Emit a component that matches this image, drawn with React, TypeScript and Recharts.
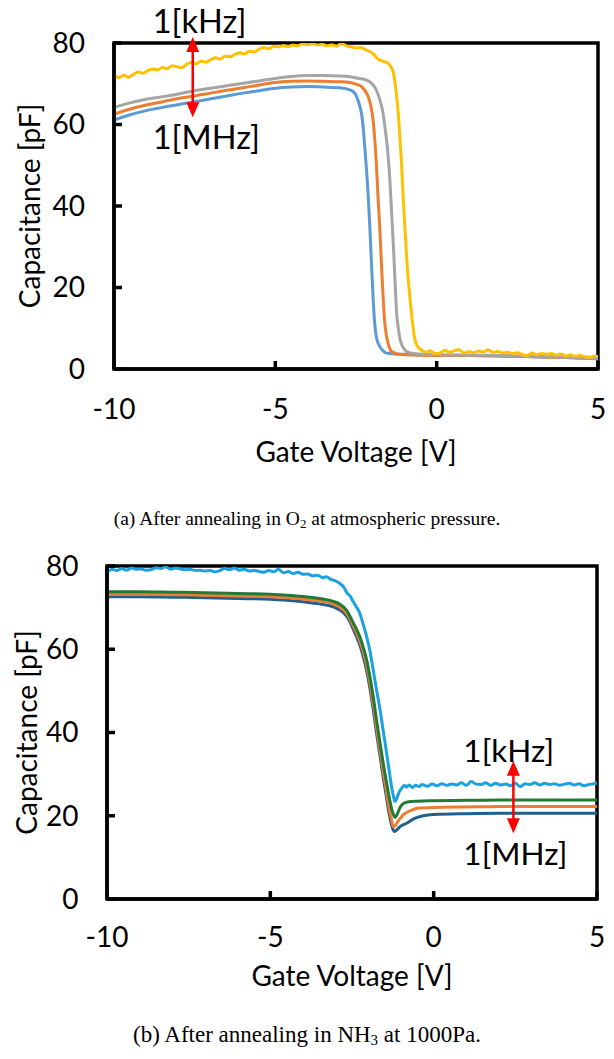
import { LineChart, Line, XAxis, YAxis, ReferenceArea, ReferenceLine } from 'recharts'

type Pt = [number, number]

const voltTicks = [-10, -5, 0, 5]
const capTicks = [0, 20, 40, 60, 80]

// (a) O2 anneal, 1 kHz ... 1 MHz
const o2Yellow: Pt[] = [
  [-10, 72.0], [-9.85, 71.5], [-9.7, 72.1], [-9.55, 71.6], [-9.4, 72.3], [-9.25, 72.9], [-9.1, 72.6],
  [-8.95, 73.2], [-8.8, 73.6], [-8.65, 73.4], [-8.5, 74.0], [-8.35, 73.7], [-8.2, 74.4], [-8.05, 74.2],
  [-7.9, 73.9], [-7.75, 74.8], [-7.6, 75.2], [-7.45, 74.9], [-7.3, 75.6], [-7.15, 75.3], [-7.0, 75.9],
  [-6.85, 76.4], [-6.7, 76.1], [-6.55, 76.8], [-6.4, 76.6], [-6.25, 77.2], [-6.1, 77.6], [-5.95, 77.3],
  [-5.8, 78.0], [-5.65, 77.8], [-5.5, 78.5], [-5.35, 78.9], [-5.2, 78.6], [-5.05, 79.2], [-4.9, 79.0],
  [-4.75, 79.4], [-4.6, 79.1], [-4.45, 79.5], [-4.3, 79.3], [-4.15, 79.8], [-4.0, 79.6], [-3.85, 79.9],
  [-3.7, 79.5], [-3.55, 79.7], [-3.4, 79.3], [-3.25, 79.6], [-3.1, 79.2], [-2.95, 79.9], [-2.8, 79.3],
  [-2.65, 79.1], [-2.5, 78.8], [-2.35, 78.9], [-2.2, 78.3], [-2.07, 77.9], [-1.95, 77.2], [-1.85, 76.3],
  [-1.76, 75.8], [-1.65, 75.5], [-1.5, 75.0], [-1.42, 74.2], [-1.34, 72.6], [-1.27, 69.0], [-1.19, 62.7],
  [-1.14, 57.0], [-1.09, 50.5], [-1.04, 42.5], [-0.98, 34.1], [-0.91, 25.0], [-0.83, 17.7], [-0.75, 11.5],
  [-0.67, 7.1], [-0.57, 5.3], [-0.46, 4.6], [-0.35, 4.1], [-0.2, 4.5], [-0.05, 3.8], [0.1, 3.9],
  [0.25, 4.6], [0.4, 4.1], [0.55, 4.5], [0.7, 4.7], [0.85, 3.9], [1.0, 4.3], [1.15, 4.0], [1.3, 4.4],
  [1.45, 4.2], [1.6, 4.7], [1.75, 4.1], [1.9, 4.3], [2.05, 3.9], [2.2, 4.1], [2.35, 3.8], [2.5, 4.0],
  [2.65, 3.6], [2.8, 3.3], [2.95, 3.9], [3.1, 3.5], [3.25, 3.8], [3.4, 3.6], [3.55, 3.8], [3.7, 3.4],
  [3.85, 3.7], [4.0, 3.2], [4.15, 3.5], [4.3, 3.1], [4.45, 3.3], [4.6, 3.0], [4.75, 2.9], [4.9, 3.2],
  [5.0, 3.0],
]

const o2Gray: Pt[] = [
  [-10, 64.2], [-9.5, 65.3], [-9, 66.2], [-8.5, 66.8], [-8, 67.5], [-7.5, 68.3], [-7, 68.9],
  [-6.5, 69.5], [-6, 70.1], [-5.5, 70.7], [-5, 71.3], [-4.5, 71.8], [-4, 72.0], [-3.5, 72.0],
  [-3, 71.9], [-2.69, 71.7], [-2.4, 71.3], [-2.18, 70.9], [-2.0, 70.0], [-1.87, 68.5], [-1.76, 66.0],
  [-1.66, 62.7], [-1.59, 58.5], [-1.53, 54.6], [-1.45, 46.4], [-1.4, 39.0], [-1.34, 30.0],
  [-1.29, 21.5], [-1.24, 13.7], [-1.18, 9.5], [-1.13, 7.1], [-1.03, 5.2], [-0.93, 4.3], [-0.7, 3.8],
  [0, 3.5], [1, 3.4], [2, 3.3], [3, 3.1], [4, 2.9], [5, 2.6],
]

const o2Orange: Pt[] = [
  [-10, 62.5], [-9.5, 63.8], [-9, 64.8], [-8.5, 65.6], [-8, 66.4], [-7.5, 67.0], [-7, 67.7],
  [-6.5, 68.4], [-6, 69.0], [-5.5, 69.7], [-5, 70.3], [-4.5, 70.6], [-4, 70.7], [-3.5, 70.6],
  [-3, 70.5], [-2.69, 70.3], [-2.5, 69.9], [-2.33, 69.3], [-2.22, 68.3], [-2.12, 66.8], [-2.04, 64.5],
  [-1.97, 61.1], [-1.92, 56.5], [-1.87, 50.5], [-1.82, 42.5], [-1.76, 34.1], [-1.71, 25.5],
  [-1.66, 17.7], [-1.61, 11.5], [-1.55, 7.9], [-1.48, 5.6], [-1.4, 4.3], [-1.2, 3.7], [-1, 3.5],
  [0, 3.3], [1, 3.3], [2, 3.2], [3, 3.0], [4, 2.8], [5, 2.5],
]

const o2Blue: Pt[] = [
  [-10, 61.1], [-9.5, 62.4], [-9, 63.4], [-8.5, 64.2], [-8, 64.9], [-7.5, 65.6], [-7, 66.3],
  [-6.5, 67.0], [-6, 67.7], [-5.5, 68.3], [-5, 68.9], [-4.5, 69.2], [-4, 69.3], [-3.5, 69.2],
  [-3, 69.0], [-2.69, 68.5], [-2.55, 67.8], [-2.48, 66.8], [-2.4, 65.0], [-2.33, 62.7], [-2.28, 59.5],
  [-2.23, 54.6], [-2.17, 48.5], [-2.12, 42.3], [-2.07, 34.5], [-2.02, 25.9], [-1.97, 17.5],
  [-1.92, 11.2], [-1.86, 7.5], [-1.76, 5.5], [-1.65, 4.4], [-1.55, 3.9], [-1.3, 3.7], [-1, 3.6],
  [0, 3.4], [1, 3.3], [2, 3.2], [3, 3.0], [4, 2.8], [5, 2.5],
]

// (b) NH3 anneal
const nh3Light: Pt[] = [
  [-10, 78.4], [-9.85, 79.2], [-9.7, 78.9], [-9.55, 79.4], [-9.4, 79.0], [-9.25, 79.5], [-9.1, 79.2],
  [-8.95, 79.3], [-8.8, 79.0], [-8.65, 79.1], [-8.5, 79.6], [-8.35, 79.4], [-8.2, 79.8], [-8.05, 79.2],
  [-7.9, 79.5], [-7.75, 79.3], [-7.6, 79.1], [-7.45, 79.2], [-7.3, 78.9], [-7.15, 79.0], [-7.0, 78.8],
  [-6.85, 78.9], [-6.7, 78.6], [-6.55, 78.9], [-6.4, 79.4], [-6.25, 79.1], [-6.1, 79.5], [-5.95, 79.0],
  [-5.8, 79.2], [-5.65, 78.8], [-5.5, 78.9], [-5.35, 78.7], [-5.2, 78.5], [-5.05, 78.9], [-4.9, 78.6],
  [-4.75, 79.2], [-4.6, 78.4], [-4.45, 78.7], [-4.3, 78.2], [-4.15, 78.5], [-4.0, 78.0], [-3.85, 78.1],
  [-3.7, 77.6], [-3.55, 77.8], [-3.4, 77.2], [-3.29, 77.4], [-3.15, 76.8], [-3.0, 76.4], [-2.87, 75.8],
  [-2.75, 74.9], [-2.66, 73.6], [-2.56, 72.8], [-2.46, 71.4], [-2.36, 70.1], [-2.26, 68.6],
  [-2.15, 65.8], [-2.05, 63.0], [-1.95, 59.6], [-1.85, 55.0], [-1.75, 50.3], [-1.64, 45.4],
  [-1.54, 40.2], [-1.44, 35.0], [-1.36, 30.8], [-1.29, 27.0], [-1.23, 24.6], [-1.18, 23.4],
  [-1.12, 24.4], [-1.05, 25.8], [-0.98, 26.6], [-0.9, 27.3], [-0.83, 26.9], [-0.75, 27.4],
  [-0.65, 26.8], [-0.55, 27.3], [-0.45, 27.0], [-0.35, 27.5], [-0.2, 27.1], [-0.05, 27.6], [0.1, 27.2],
  [0.25, 27.7], [0.4, 27.3], [0.55, 27.6], [0.7, 27.4], [0.85, 27.9], [1.0, 27.3], [1.15, 28.2],
  [1.3, 27.6], [1.45, 27.5], [1.6, 27.9], [1.75, 27.3], [1.9, 27.8], [2.05, 27.4], [2.2, 27.6],
  [2.35, 27.2], [2.5, 27.8], [2.65, 27.0], [2.8, 27.7], [2.95, 27.5], [3.1, 27.9], [3.25, 27.4],
  [3.4, 27.8], [3.55, 27.5], [3.7, 27.7], [3.85, 27.3], [4.0, 27.6], [4.15, 27.8], [4.3, 27.4],
  [4.45, 27.7], [4.6, 27.2], [4.75, 27.5], [4.9, 27.7], [5.0, 27.9],
]

const nh3Green: Pt[] = [
  [-10, 73.8], [-9, 73.8], [-8, 73.7], [-7, 73.6], [-6, 73.4], [-5, 73.2], [-4.5, 73.0], [-4, 72.7],
  [-3.5, 72.2], [-3.07, 71.5], [-2.87, 70.8], [-2.66, 69.3], [-2.56, 67.9], [-2.46, 66.3],
  [-2.36, 64.8], [-2.26, 63.0], [-2.15, 60.3], [-2.05, 57.4], [-1.95, 53.3], [-1.85, 48.6],
  [-1.75, 43.0], [-1.64, 37.4], [-1.54, 32.4], [-1.44, 27.8], [-1.36, 24.4], [-1.29, 21.8],
  [-1.23, 20.2], [-1.18, 19.6], [-1.12, 20.3], [-1.03, 22.0], [-0.93, 22.9], [-0.8, 23.3],
  [-0.5, 23.5], [0, 23.6], [1, 23.7], [2, 23.8], [3, 23.8], [4, 23.8], [5, 23.8],
]

const nh3Orange: Pt[] = [
  [-10, 73.2], [-9, 73.2], [-8, 73.1], [-7, 73.0], [-6, 72.8], [-5, 72.6], [-4.5, 72.4], [-4, 72.1],
  [-3.5, 71.6], [-3.07, 70.9], [-2.87, 70.1], [-2.66, 68.6], [-2.56, 67.2], [-2.46, 65.6],
  [-2.36, 63.9], [-2.26, 62.0], [-2.15, 59.2], [-2.05, 56.0], [-1.95, 51.8], [-1.85, 46.9],
  [-1.75, 41.3], [-1.64, 35.6], [-1.54, 30.4], [-1.44, 25.6], [-1.36, 21.8], [-1.29, 19.0],
  [-1.24, 17.4], [-1.18, 17.6], [-1.1, 18.6], [-1.0, 19.6], [-0.93, 20.2], [-0.8, 20.9],
  [-0.62, 21.5], [-0.52, 21.8], [0, 22.0], [1, 22.1], [2, 22.2], [5, 22.2],
]

const nh3Navy: Pt[] = [
  [-10, 72.6], [-9, 72.6], [-8, 72.5], [-7, 72.4], [-6, 72.2], [-5, 72.0], [-4.5, 71.8], [-4, 71.4],
  [-3.5, 70.9], [-3.07, 70.2], [-2.87, 69.4], [-2.66, 67.9], [-2.56, 66.5], [-2.46, 64.8],
  [-2.36, 63.0], [-2.26, 61.0], [-2.15, 58.0], [-2.05, 54.8], [-1.95, 50.5], [-1.85, 45.5],
  [-1.75, 39.9], [-1.64, 34.2], [-1.54, 29.0], [-1.44, 24.2], [-1.36, 20.4], [-1.29, 17.8],
  [-1.21, 16.2], [-1.13, 16.6], [-1.03, 17.4], [-0.83, 18.2], [-0.6, 19.3], [-0.32, 20.0],
  [0, 20.3], [1, 20.5], [2, 20.6], [5, 20.6],
]

// arrow between 1 kHz and 1 MHz: [voltage, cap] at both tips
const o2Arrow: Pt[] = [[-7.56, 81.5], [-7.56, 61.8]]
const nh3Arrow: Pt[] = [[2.44, 33.2], [2.44, 15.8]]

const FONT = 'Lato, sans-serif'
const SERIF = "'Liberation Serif', 'Times New Roman', serif"
const toRows = (pts: Pt[]) => pts.map(([v, c]) => ({ v, c }))

type Series = { key: string; color: string; pts: Pt[] }

const FreqArrow = (props: any) => {
  const { x1, y1, y2, textDx, kHzDy, mHzDy, fs } = props
  const x = x1
  const top = Math.min(y1, y2)
  const bot = Math.max(y1, y2)
  const red = '#FF0000'
  return (
    <g>
      <line x1={x} y1={top + 12} x2={x} y2={bot - 12} stroke={red} strokeWidth={2.5} />
      <polygon points={`${x},${top} ${x - 6.5},${top + 15} ${x + 6.5},${top + 15}`} fill={red} />
      <polygon points={`${x},${bot} ${x - 6.5},${bot - 15} ${x + 6.5},${bot - 15}`} fill={red} />
      <text x={x + textDx} y={top + kHzDy} fontSize={fs} fill="#000" fontFamily={FONT}>1[kHz]</text>
      <text x={x + textDx} y={bot + mHzDy} fontSize={fs} fill="#000" fontFamily={FONT}>1[MHz]</text>
    </g>
  )
}

type PanelProps = {
  top: number
  height: number
  yAxisW: number
  right: number
  yTickGap: number
  xTickGap: number
  xTitleDy: number
  yTitleX: number
  series: Series[]
  arrow: Pt[]
  textDx: number
  kHzDy: number
  noteSize: number
}

function Panel(p: PanelProps) {
  const axisLine = { stroke: '#000', strokeWidth: 3.5 }
  const tick = { fill: '#000', fontSize: 28, fontFamily: FONT }
  return (
    <div style={{ position: 'absolute', left: 0, top: p.top }}>
      <LineChart width={614} height={p.height} margin={{ top: 43, right: p.right, bottom: 0, left: 0 }}>
        <XAxis
          type="number" dataKey="v" domain={[-10, 5]} ticks={voltTicks} interval={0}
          height={111} axisLine={axisLine} tickLine={axisLine} tickSize={-8} tickMargin={8 + p.xTickGap}
          tick={tick} allowDataOverflow
          label={(lp: any) => {
            const vb = lp.viewBox
            return (
              <text x={vb.x + vb.width / 2} y={vb.y + p.xTitleDy} textAnchor="middle" fontSize={28} fill="#000" fontFamily={FONT}>
                Gate Voltage [V]
              </text>
            )
          }}
        />
        <YAxis
          type="number" domain={[0, 80]} ticks={capTicks} interval={0} width={p.yAxisW}
          axisLine={axisLine} tickLine={axisLine} tickSize={-8} tickMargin={8 + p.yTickGap}
          tick={tick} allowDataOverflow
          label={(lp: any) => {
            const vb = lp.viewBox
            const x = vb.x + p.yTitleX
            const y = vb.y + vb.height / 2
            return (
              <text x={x} y={y} transform={`rotate(-90, ${x}, ${y})`} textAnchor="middle" fontSize={28} fill="#000" fontFamily={FONT}>
                Capacitance [pF]
              </text>
            )
          }}
        />
        {p.series.map((s) => (
          <Line
            key={s.key} data={toRows(s.pts)} dataKey="c" type="monotone" stroke={s.color}
            strokeWidth={3} dot={false} activeDot={false} isAnimationActive={false}
          />
        ))}
        <ReferenceArea x1={-10} x2={5} y1={0} y2={80} fill="none" stroke="#000" strokeWidth={3.5} ifOverflow="visible" />
        <ReferenceLine
          segment={[{ x: p.arrow[0][0], y: p.arrow[0][1] }, { x: p.arrow[1][0], y: p.arrow[1][1] }]}
          ifOverflow="visible"
          shape={(sp: any) => <FreqArrow {...sp} textDx={p.textDx} kHzDy={p.kHzDy} mHzDy={32} fs={p.noteSize} />}
        />
      </LineChart>
    </div>
  )
}

export default function App() {
  return (
    <div style={{ position: 'absolute', left: 0, top: 0, width: 614, height: 1059, background: '#fff', fontFamily: FONT }}>
      <Panel
        top={0} height={480} yAxisW={114} right={16} yTickGap={29} xTickGap={30} xTitleDy={93} yTitleX={39.5}
        series={[
          { key: 'blue', color: '#5B9BD5', pts: o2Blue },
          { key: 'orange', color: '#ED7D31', pts: o2Orange },
          { key: 'gray', color: '#A5A5A5', pts: o2Gray },
          { key: 'yellow', color: '#FFC000', pts: o2Yellow },
        ]}
        arrow={o2Arrow} textDx={-40} kHzDy={-4} noteSize={32.5}
      />
      <Panel
        top={523} height={487} yAxisW={107} right={17} yTickGap={28.4} xTickGap={28} xTitleDy={87} yTitleX={37}
        series={[
          { key: 'navy', color: '#215F8E', pts: nh3Navy },
          { key: 'orange', color: '#ED7D31', pts: nh3Orange },
          { key: 'green', color: '#217A36', pts: nh3Green },
          { key: 'light', color: '#1BA1E2', pts: nh3Light },
        ]}
        arrow={nh3Arrow} textDx={-50} kHzDy={1} noteSize={31.5}
      />
      <svg width={614} height={1059} style={{ position: 'absolute', left: 0, top: 0, pointerEvents: 'none' }}>
        <text x={307} y={525} textAnchor="middle" fontSize={19.5} fontFamily={SERIF} fill="#000">
          (a) After annealing in O<tspan fontSize={13} dy={2.5}>2</tspan><tspan dy={-2.5}> at atmospheric pressure.</tspan>
        </text>
        <text x={307} y={1042} textAnchor="middle" fontSize={23} fontFamily={SERIF} fill="#000">
          (b) After annealing in NH<tspan fontSize={15} dy={3}>3</tspan><tspan dy={-3}> at 1000Pa.</tspan>
        </text>
      </svg>
    </div>
  )
}
